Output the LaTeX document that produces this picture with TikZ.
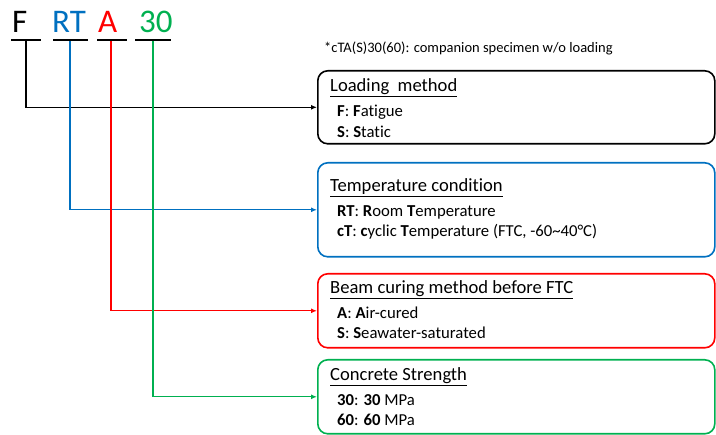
\documentclass[tikz,border=0pt]{standalone}
\usepackage{fontspec}
\setmainfont{Carlito}[Ligatures={NoCommon,NoRare}]
\usetikzlibrary{arrows.meta}
\definecolor{cblue}{HTML}{0070C0}
\definecolor{cred}{HTML}{FF0000}
\definecolor{cgreen}{HTML}{00B050}
\begin{document}
\begin{tikzpicture}[x=1pt,y=-1pt,
  letter/.style={anchor=base west,inner sep=0pt,font=\fontsize{33}{36}\selectfont},
  ttl/.style={anchor=base west,inner sep=0pt,font=\fontsize{18.6}{22}\selectfont},
  item/.style={anchor=base west,inner sep=0pt,font=\fontsize{16.7}{20}\selectfont},
  catbox/.style={draw,line width=1.6pt,rounded corners=10pt,anchor=north west,inner sep=0pt,minimum width=397pt},
  uline/.style={line width=2.4pt,black},
  conn/.style={line width=1.2pt,-{Latex[length=6pt,width=5pt]}}]
\useasboundingbox (0,0) rectangle (716,435);
% code letters
\node[letter] (lF) at (12,33) {F};
\node[letter,text=cblue] (lRT) at (52,33) {RT};
\node[letter,text=cred] (lA) at (98,33) {A};
\node[letter,text=cgreen] (l30) at (139,33) {30};
% underlines
\draw[uline] (11,40) -- (41,40);
\draw[uline] (53,40) -- (88,40);
\draw[uline] (97,40) -- (127,40);
\draw[uline] (135,40) -- (171,40);
\coordinate (uF) at (26,41);
\coordinate (uRT) at (70,41);
\coordinate (uA) at (111,41);
\coordinate (u30) at (153,41);
% footnote
\node[anchor=base west,inner sep=0pt,font=\fontsize{14.5}{17}\selectfont] (note) at (324,53) {*cTA(S)30(60): companion specimen w/o loading};
% boxes
\node[catbox,draw=black,minimum height=73pt] (b1) at (317,70) {};
\node[catbox,draw=cblue,minimum height=94pt] (b2) at (317,162) {};
\node[catbox,draw=cred,minimum height=74pt] (b3) at (317,273) {};
\node[catbox,draw=cgreen,minimum height=74pt] (b4) at (317,359) {};
% box texts
\node[ttl] (t1) at (330,92) {\underline{Loading\ \ method}};
\node[item] (t1a) at (337,117) {\textbf{F}: \textbf{F}atigue};
\node[item] (t1b) at (337,138) {\textbf{S}: \textbf{S}tatic};
\node[ttl] (t2) at (330,192) {\underline{Temperature condition}};
\node[item] (t2a) at (337,217) {\textbf{RT}: \textbf{R}oom \textbf{T}emperature};
\node[item] (t2b) at (337,237) {\textbf{cT}: \textbf{c}yclic \textbf{T}emperature (FTC, -60\char"7E 40°C)};
\node[ttl] (t3) at (330,294) {\underline{Beam curing method before FTC}};
\node[item] (t3a) at (337,319) {\textbf{A}: \textbf{A}ir-cured};
\node[item] (t3b) at (337,339) {\textbf{S}: \textbf{S}eawater-saturated};
\node[ttl] (t4) at (330,381) {\underline{Concrete Strength}};
\node[item] (t4a) at (337,406) {\textbf{30}: \textbf{30} MPa};
\node[item] (t4b) at (337,426) {\textbf{60}: \textbf{60} MPa};
% connectors
\draw[conn,black] (uF) |- (b1.west);
\draw[conn,cblue] (uRT) |- (b2.west);
\draw[conn,cred] (uA) |- (b3.west);
\draw[conn,cgreen] (u30) |- (b4.west);
\end{tikzpicture}
\end{document}
